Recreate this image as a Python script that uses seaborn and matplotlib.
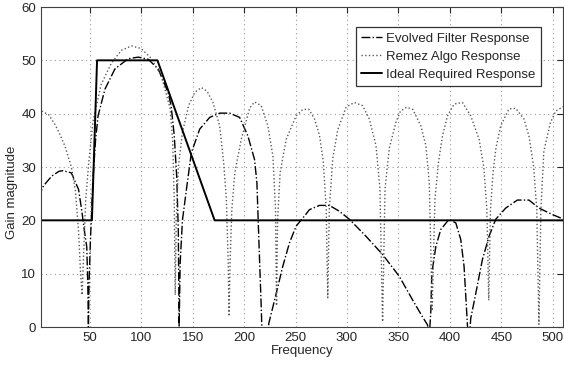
import matplotlib
matplotlib.use("Agg")
import matplotlib.pyplot as plt
import seaborn as sns
import pandas as pd

# ---- data ----
ideal_freq = [0, 52, 57, 115.7, 171.3, 512]
ideal_gain = [20, 20, 50, 50, 20, 20]

evolved_freq = [0, 5, 13, 20, 24, 32, 39, 42, 45, 47, 48, 48.6, 49.2, 50.5, 51.7, 53, 55.6, 58,
                64.7, 74.4, 87.3, 97, 106.7, 116.4, 126, 129, 132, 134.5, 136, 136.8, 137.8,
                140, 143.9, 148.7, 156.8, 166.5, 176.2, 185.9, 195.6, 203.7, 210.1, 212.4, 214,
                216.6, 217.5, 220.5, 223, 224, 231.2, 237.6, 244.1, 250.5, 258.6, 263.5, 273.2,
                282.9, 292.6, 302.3, 318.5, 334.6, 350.8, 363.7, 373.4, 378.3, 380, 381.5, 382.5,
                386.4, 391.2, 399.3, 405.8, 410.6, 413.8, 415.5, 417.5, 419, 420.3, 425.2, 431.6,
                438.1, 444.6, 454.3, 465.6, 476.9, 486.6, 499.5, 512]
evolved_gain = [24.3, 26.5, 28.3, 29.2, 29.3, 28.9, 25.8, 22, 17.6, 15, 8, 0, 8, 16, 21.4, 27.7,
                35.2, 39.6, 44.6, 48.4, 50.3, 50.6, 50.2, 48.4, 44, 41.5, 36, 28, 18, 0, 12,
                20, 25.8, 32.7, 37.1, 39.3, 40.1, 40.1, 39.3, 35.8, 31.4, 27.1, 18,
                3.8, -2, -4, -1, 0.7, 6.3, 11.4, 15.8, 18.9, 20.8, 22, 22.8,
                22.8, 21.7, 20.2, 17, 13.6, 9.5, 5.1, 1.9, 0.4, -2, 3, 10.1,
                15.1, 18.3, 20.2, 19.5, 16.4, 11.4, 5.7, -1, -2, 1.6, 6.3, 12.6,
                17, 20.2, 22.3, 23.8, 23.8, 22.3, 21.1, 20.1]

remez_freq = [0, 10, 16, 20, 26, 32, 36, 39, 41, 42.5, 44, 46, 49, 53, 61, 71, 80.8, 90.5, 100,
              110, 119.6, 128, 130.5, 132, 133, 134, 136, 140, 146, 152, 158.4, 164, 169.7,
              176.2, 180, 182.7, 184.5, 185.3, 186.3, 188, 191, 197.2, 205.3, 210.1, 216.6,
              223.1, 228, 230.5, 231.5, 232.5, 235, 240.9, 250.6, 257.1, 263, 268.4, 273.2, 277,
              279.8, 281.3, 282.8, 286.1, 291, 299.1, 307.1, 315.2, 321.7, 328.2, 332, 334.6,
              337, 341.1, 347.6, 352, 358, 364, 371.8, 376.7, 380, 382.8, 385.5, 389, 392.8,
              397.7, 404.1, 412.2, 420.3, 428.4, 433, 436, 437.8, 439.5, 442, 444.6, 449.4,
              457.5, 464, 472.1, 476.9, 481.5, 484.5, 486.6, 488.5, 491.4, 497.9, 503, 512]
remez_gain = [40.8, 39.8, 38, 36.5, 33.8, 30, 25.5, 18, 10, 6, 14, 24, 31, 38.5, 45.5, 49.5, 51.9,
              52.7, 52.2, 50.3, 47, 41, 35, 24, 6, 20, 30, 36.5, 41.5, 44, 44.9, 44.2, 42.1,
              37.7, 31, 24, 12, 2, 12, 22, 29, 35.2, 41, 42.2, 41.5,
              37.7, 32, 22, 4, 20, 29, 35.2, 39.6, 40.8, 40.8, 39, 36, 31,
              22, 5.5, 22, 31.5, 37, 41.2, 42.1, 41.5, 39, 34, 26, 1,
              26, 33.5, 38.4, 40.5, 41.2, 40.8, 37.7, 34, 27, 3, 24, 31, 35.8,
              39.6, 41.8, 42.1, 39.6, 35.2, 30, 22, 5, 22, 29, 33.3, 37.7,
              40.9, 41, 39, 35.8, 30, 22, 0.5, 22, 33, 38.4, 40.5, 41.5]

x_ticks = [50, 100, 150, 200, 250, 300, 350, 400, 450, 500]
y_ticks = [0, 10, 20, 30, 40, 50, 60]

sns.set_style("white")
plt.rcParams['font.family'] = ['Liberation Sans', 'DejaVu Sans']

fig = plt.figure(figsize=(5.64, 3.66), dpi=100)
ax = fig.add_axes([41/564, 1-327/366, 522/564, 320/366])

ev = pd.DataFrame({"f": evolved_freq, "g": evolved_gain})
rm = pd.DataFrame({"f": remez_freq, "g": remez_gain})
idl = pd.DataFrame({"f": ideal_freq, "g": ideal_gain})

sns.lineplot(data=ev, x="f", y="g", ax=ax, color="black", lw=1.0, linestyle="-.",
             label="Evolved Filter Response", sort=False, estimator=None)
sns.lineplot(data=rm, x="f", y="g", ax=ax, color="0.35", lw=1.0, linestyle=":",
             label="Remez Algo Response", sort=False, estimator=None)
sns.lineplot(data=idl, x="f", y="g", ax=ax, color="black", lw=1.4, linestyle="-",
             label="Ideal Required Response", sort=False, estimator=None)

ax.set_xlim(2.5, 510)
ax.set_ylim(0, 60)
ax.set_xticks(x_ticks)
ax.set_yticks(y_ticks)
ax.grid(True, linestyle=(0, (1, 3)), color="0.6", lw=0.8)
ax.tick_params(direction="in", length=4, labelsize=9.5, top=True, right=True,
               labeltop=False, labelright=False, colors="0.15")
for s in ax.spines.values():
    s.set_color("0.25")
    s.set_linewidth(0.8)

ax.set_xlabel("Frequency", fontsize=9.5, labelpad=1)
ax.set_ylabel("Gain magnitude", fontsize=9.5)
ax.yaxis.set_label_coords(-0.045, 0.42)

leg = ax.legend(loc="upper right", bbox_to_anchor=(0.958, 0.9375), borderaxespad=0,
                fontsize=9.5, frameon=True, fancybox=False, handlelength=1.6,
                handletextpad=0.3, labelspacing=0.45, borderpad=0.4)
leg.get_frame().set_edgecolor("black")
leg.get_frame().set_linewidth(0.9)

fig.savefig("out.png", dpi=100)
